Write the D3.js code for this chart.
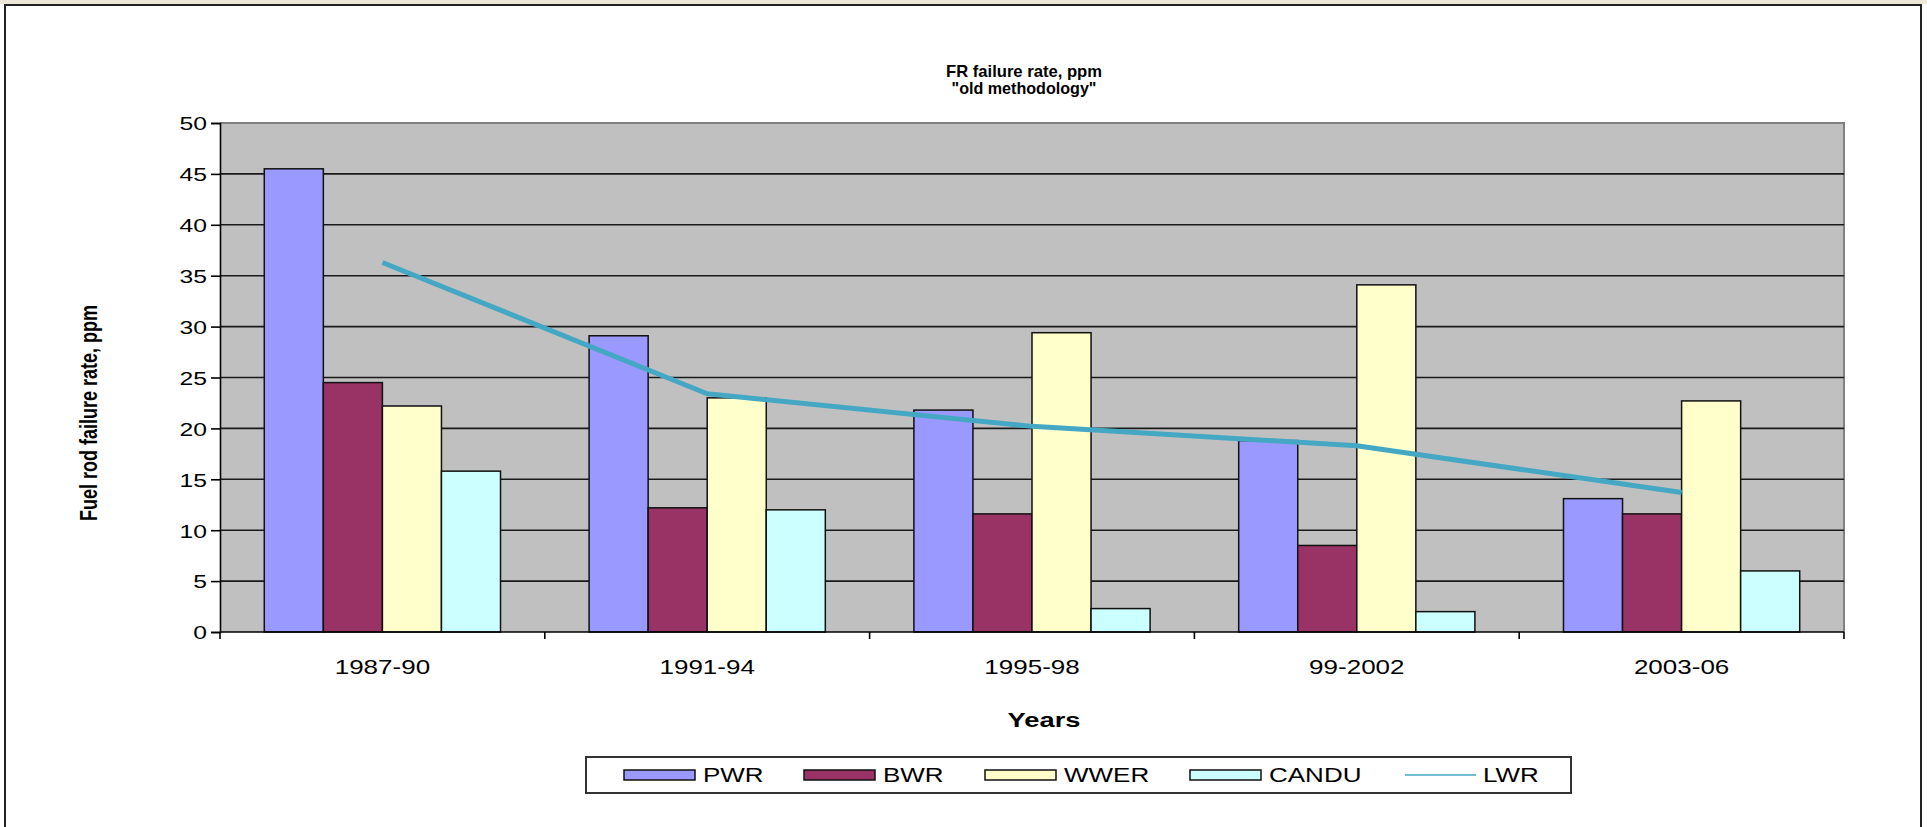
<!DOCTYPE html>
<html>
<head>
<meta charset="utf-8">
<script src="https://cdn.jsdelivr.net/npm/d3@7"></script>
<style>
  html, body { margin: 0; padding: 0; background: #ffffff; }
  svg { display: block; }
  text { font-family: "Liberation Sans", Arial, sans-serif; fill: #000; }
</style>
</head>
<body>
<svg id="chart" width="1927" height="827"></svg>
<script>
// Fuel rod failure rates by reactor type, four-year periods
const categories = ["1987-90", "1991-94", "1995-98", "99-2002", "2003-06"];
const seriesNames = ["PWR", "BWR", "WWER", "CANDU"];
const pwr   = [45.5, 29.1, 21.8, 18.8, 13.1];
const bwr   = [24.5, 12.2, 11.6, 8.5, 11.6];
const wwer  = [22.2, 23.0, 29.4, 34.1, 22.7];
const candu = [15.8, 12.0, 2.3, 2.0, 6.0];
const lwr   = [36.3, 23.4, 20.2, 18.3, 13.7];
const yTicks = [0, 5, 10, 15, 20, 25, 30, 35, 40, 45, 50];
const colors = ["#9999ff", "#993366", "#ffffcc", "#ccffff"];
const lineColor = "#44a8c4";

const barValues = [pwr, bwr, wwer, candu];
const SX = 1.3; // horizontal stretch of all lettering

const svg = d3.select("#chart");

// window strip and chart frame
svg.append("rect").attr("x", 0).attr("y", 0).attr("width", 1927).attr("height", 4).attr("fill", "#ece9d8");
svg.append("path").attr("d", "M5,827 V5 H1921 V827")
  .attr("fill", "none").attr("stroke", "#222").attr("stroke-width", 2);

const plot = { left: 220, right: 1844, top: 123, bottom: 632 };

const x = d3.scaleBand().domain(categories).range([plot.left, plot.right]).padding(0);
const xInner = d3.scaleBand().domain(seriesNames).range([0, x.bandwidth()])
  .paddingInner(0).paddingOuter(0.75);
const y = d3.scaleLinear().domain([0, 50]).range([plot.bottom, plot.top]);

// plot background
svg.append("rect")
  .attr("x", plot.left).attr("y", plot.top)
  .attr("width", plot.right - plot.left).attr("height", plot.bottom - plot.top)
  .attr("fill", "#c0c0c0");
svg.append("path")
  .attr("d", `M${plot.left},${plot.top} H${plot.right} V${plot.bottom}`)
  .attr("fill", "none").attr("stroke", "#808080").attr("stroke-width", 2);

// horizontal gridlines
svg.append("g").selectAll("line")
  .data(yTicks.filter(d => d > 0 && d < 50))
  .join("line")
  .attr("x1", plot.left).attr("x2", plot.right)
  .attr("y1", d => y(d)).attr("y2", d => y(d))
  .attr("stroke", "#1a1a1a").attr("stroke-width", 1.6);

// bars
const groups = svg.append("g").selectAll("g")
  .data(categories)
  .join("g")
  .attr("transform", d => `translate(${x(d)},0)`);

groups.selectAll("rect")
  .data((c, i) => seriesNames.map((s, k) => ({ s, k, v: barValues[k][i] })))
  .join("rect")
  .attr("x", d => xInner(d.s))
  .attr("width", xInner.bandwidth())
  .attr("y", d => y(d.v))
  .attr("height", d => y(0) - y(d.v))
  .attr("fill", d => colors[d.k])
  .attr("stroke", "#111")
  .attr("stroke-width", 1.5);

// LWR line
const line = d3.line()
  .x((d, i) => x(categories[i]) + x.bandwidth() / 2)
  .y(d => y(d));
svg.append("path")
  .datum(lwr)
  .attr("d", line)
  .attr("fill", "none")
  .attr("stroke", lineColor)
  .attr("stroke-width", 5)
  .attr("stroke-linejoin", "round");

// y axis
const yAxis = svg.append("g")
  .attr("transform", `translate(${plot.left},0)`)
  .call(d3.axisLeft(y).tickValues(yTicks).tickSize(9).tickPadding(0));
yAxis.select(".domain").attr("stroke", "#000").attr("stroke-width", 1.6);
yAxis.selectAll(".tick line").attr("stroke", "#000").attr("stroke-width", 1.6);
yAxis.selectAll(".tick text")
  .attr("x", -13 / SX)
  .attr("dy", "0.36em")
  .attr("transform", `scale(${SX},1)`)
  .style("font-size", "19px");

// x axis: labels under band centres, ticks on band boundaries
const xAxis = svg.append("g")
  .attr("transform", `translate(0,${plot.bottom})`)
  .call(d3.axisBottom(x).tickSize(0).tickPadding(0));
xAxis.select(".domain").remove();
svg.append("line")
  .attr("x1", plot.left).attr("x2", plot.right)
  .attr("y1", plot.bottom).attr("y2", plot.bottom)
  .attr("stroke", "#000").attr("stroke-width", 1.6);
xAxis.selectAll(".tick text")
  .attr("y", 42).attr("dy", 0)
  .attr("transform", `scale(${SX},1)`)
  .style("font-size", "20px");
svg.append("g").selectAll("line")
  .data(categories.map(c => x(c)).concat([plot.right]))
  .join("line")
  .attr("x1", d => d).attr("x2", d => d)
  .attr("y1", plot.bottom).attr("y2", plot.bottom + 7)
  .attr("stroke", "#000").attr("stroke-width", 1.6);

// stretched text helper
function label(str, px, py, size, weight, anchor, rotate) {
  return svg.append("text")
    .attr("transform", `translate(${px},${py}) scale(${SX},1)` + (rotate ? ` rotate(${rotate})` : ""))
    .attr("text-anchor", anchor)
    .style("font-size", size + "px")
    .style("font-weight", weight)
    .text(str);
}

// titles
svg.append("text")
  .attr("x", 1024).attr("y", 77)
  .attr("text-anchor", "middle")
  .attr("textLength", 156).attr("lengthAdjust", "spacingAndGlyphs")
  .style("font-size", "17px").style("font-weight", "bold")
  .text("FR failure rate, ppm");
svg.append("text")
  .attr("x", 1024).attr("y", 94)
  .attr("text-anchor", "middle")
  .attr("textLength", 145).attr("lengthAdjust", "spacingAndGlyphs")
  .style("font-size", "17px").style("font-weight", "bold")
  .text("\"old methodology\"");
label("Fuel rod failure rate, ppm", 97, 413, 18, "bold", "middle", -90);
label("Years", 1044, 727, 21, "bold", "middle");

// legend
const legend = svg.append("g");
legend.append("rect")
  .attr("x", 586).attr("y", 757).attr("width", 985).attr("height", 36)
  .attr("fill", "#fff").attr("stroke", "#333").attr("stroke-width", 2);
const legendX = [624, 804, 985, 1190, 1405];
const legendNames = seriesNames.concat(["LWR"]);
legendNames.forEach((name, i) => {
  if (i < 4) {
    legend.append("rect")
      .attr("x", legendX[i]).attr("y", 770).attr("width", 71).attr("height", 10)
      .attr("fill", colors[i]).attr("stroke", "#111").attr("stroke-width", 1.5);
  } else {
    legend.append("line")
      .attr("x1", legendX[i]).attr("x2", legendX[i] + 71)
      .attr("y1", 775).attr("y2", 775)
      .attr("stroke", lineColor).attr("stroke-width", 1.5);
  }
  legend.append("text")
    .attr("transform", `translate(${legendX[i] + (i < 4 ? 79 : 78)},782) scale(${SX},1)`)
    .style("font-size", "20px")
    .text(name);
});
</script>
</body>
</html>
